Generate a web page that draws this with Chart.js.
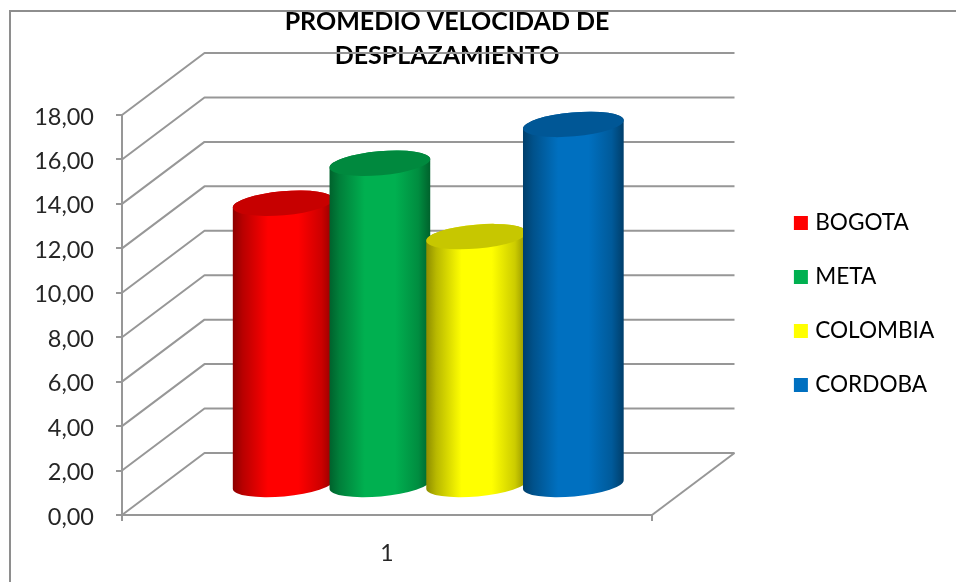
<!DOCTYPE html>
<html>
<head>
<meta charset="utf-8">
<style>
	html, body { margin: 0; padding: 0; background: #fff; }
	canvas { display: block; }
</style>
<script src="https://cdn.jsdelivr.net/npm/chart.js@4"></script>
</head>
<body>
<canvas id="js-speed-chart" width="956" height="582"></canvas>
<script>
const titleLines = ['PROMEDIO VELOCIDAD DE', 'DESPLAZAMIENTO'];
const categories = ['1'];
const seriesNames = ['BOGOTA', 'META', 'COLOMBIA', 'CORDOBA'];
const bogota = [12.7];
const meta = [14.5];
const colombia = [11.2];
const cordoba = [16.25];
const seriesColors = ['#ff0000', '#00b050', '#ffff00', '#0070c0'];
const seriesValues = [bogota, meta, colombia, cordoba];

const GRID = '#979797';
const TEXT = '#262626';
const FONT = 'Lato';
const DEPTH_X = 82.5;
const DEPTH_Y = 62;
const BAR_SHIFT_Y = 29.5;

function shade(hex, k) {
	const n = parseInt(hex.slice(1), 16);
	const r = Math.round(((n >> 16) & 255) * k);
	const g = Math.round(((n >> 8) & 255) * k);
	const b = Math.round((n & 255) * k);
	return `rgb(${r},${g},${b})`;
}

function drawCylinder(ctx, bar, color) {
	const rx = bar.width / 2;
	const ry = 12;
	const rot = -5 * Math.PI / 180;
	const cx = bar.x + DEPTH_X / 2;
	const top = bar.y - BAR_SHIFT_Y;
	const base = bar.base - BAR_SHIFT_Y;
	const grad = ctx.createLinearGradient(cx - rx, 0, cx + rx, 0);
	grad.addColorStop(0, shade(color, 0.55));
	grad.addColorStop(0.1, shade(color, 0.72));
	grad.addColorStop(0.35, color);
	grad.addColorStop(0.65, color);
	grad.addColorStop(0.88, shade(color, 0.8));
	grad.addColorStop(1, shade(color, 0.55));
	ctx.beginPath();
	ctx.ellipse(cx, base, rx, ry, rot, 0, Math.PI);
	ctx.ellipse(cx, top, rx, ry, rot, Math.PI, 2 * Math.PI);
	ctx.closePath();
	ctx.fillStyle = grad;
	ctx.fill();
	ctx.beginPath();
	ctx.ellipse(cx, top, rx, ry, rot, 0, 2 * Math.PI);
	ctx.fillStyle = shade(color, 0.78);
	ctx.fill();
}

const framePlugin = {
	id: 'frame',
	beforeDraw(chart) {
		const { ctx, width, height } = chart;
		ctx.save();
		ctx.strokeStyle = '#8e8e8e';
		ctx.lineWidth = 2;
		ctx.beginPath();
		ctx.moveTo(10, height);
		ctx.lineTo(10, 11);
		ctx.lineTo(width, 11);
		ctx.stroke();
		ctx.restore();
	},
};

// the legend and title sit apart from the plot in the original
const placePlugin = {
	id: 'place',
	afterLayout(chart) {
		const legend = chart.legend;
		const w = legend.width;
		legend.left = 766.5;
		legend.right = 766.5 + w;
		legend.top = 304 - 200;
		legend.bottom = 304 + 200;
		chart.titleBlock.left = -31;
		chart.titleBlock.right = 925;
	},
};

const cylinderPlugin = {
	id: 'cylinders',
	beforeDatasetsDraw(chart) {
		const { ctx, chartArea, scales } = chart;
		ctx.save();
		ctx.strokeStyle = GRID;
		ctx.lineWidth = 2;
		ctx.lineJoin = 'round';
		scales.y.ticks.forEach((t) => {
			const y = scales.y.getPixelForValue(t.value);
			ctx.beginPath();
			ctx.moveTo(chartArea.left, y);
			ctx.lineTo(chartArea.left + DEPTH_X, y - DEPTH_Y);
			ctx.lineTo(chartArea.right + DEPTH_X, y - DEPTH_Y);
			ctx.stroke();
		});
		ctx.beginPath();
		ctx.moveTo(chartArea.right, chartArea.bottom);
		ctx.lineTo(chartArea.right + DEPTH_X, chartArea.bottom - DEPTH_Y);
		ctx.stroke();
		seriesValues.forEach((v, i) => {
			chart.getDatasetMeta(i).data.forEach((bar) => drawCylinder(ctx, bar, seriesColors[i]));
		});
		ctx.restore();
		return false;
	},
};

const ctx = document.getElementById('js-speed-chart');
new Chart(ctx, {
	type: 'bar',
	data: {
		labels: categories,
		datasets: seriesNames.map((name, i) => ({
			label: name,
			data: seriesValues[i],
			backgroundColor: seriesColors[i],
			categoryPercentage: 0.73,
			barPercentage: 1.045,
		})),
	},
	options: {
		responsive: false,
		animation: false,
		layout: { padding: { top: 5, right: 134, bottom: 0, left: 0 } },
		plugins: {
			tooltip: { enabled: false },
			title: {
				display: true,
				text: titleLines,
				color: '#000',
				font: { family: FONT, size: 25, weight: 'bold', lineHeight: 1.36 },
				padding: { top: 0, bottom: 42 },
			},
			legend: {
				position: 'right',
				maxWidth: 170,
				labels: {
					color: TEXT,
					font: { family: FONT, size: 22.6 },
					boxWidth: 6,
					boxHeight: 6,
					padding: 31.4,
					generateLabels: (chart) => chart.data.datasets.map((d, i) => ({
						text: d.label,
						fillStyle: seriesColors[i],
						strokeStyle: seriesColors[i],
						lineWidth: 8,
						datasetIndex: i,
					})),
				},
			},
		},
		scales: {
			x: {
				afterFit: (scale) => { scale.height = 67; },
				grid: { offset: true, drawOnChartArea: false, color: GRID, lineWidth: 2, tickLength: 6 },
				border: { color: GRID, width: 2 },
				ticks: { color: TEXT, font: { family: FONT, size: 23 }, padding: 19 },
			},
			y: {
				min: 0,
				max: 18,
				afterFit: (scale) => { scale.width = 122; },
				grid: { drawOnChartArea: false, color: GRID, lineWidth: 2, tickLength: 6 },
				border: { color: GRID, width: 2 },
				ticks: {
					stepSize: 2,
					color: TEXT,
					font: { family: FONT, size: 23.5 },
					padding: 22,
					labelOffset: 2,
					callback: (v) => v.toFixed(2).replace('.', ','),
				},
			},
		},
	},
	plugins: [framePlugin, placePlugin, cylinderPlugin],
});
</script>
</body>
</html>
